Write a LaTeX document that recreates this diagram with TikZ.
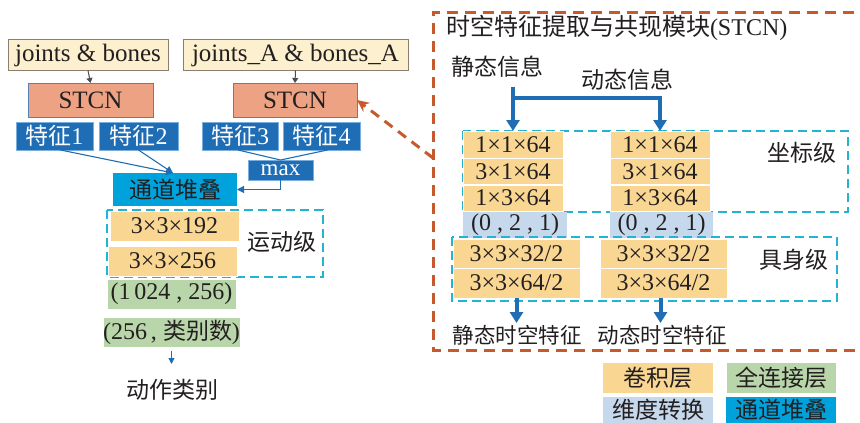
\documentclass[tikz,border=0pt]{standalone}
\usepackage{fontspec}
\setmainfont{Liberation Serif}
\newfontfamily\cjk{Noto Sans CJK SC}
\usetikzlibrary{arrows.meta,calc}
\newcommand\zh[1]{{\cjk\fontsize{23}{27}\selectfont #1}}
\newcommand\lat{\fontsize{24}{28}\selectfont}
\definecolor{cream}{HTML}{FCF0CE}
\definecolor{creamB}{HTML}{8A7E70}
\definecolor{salmon}{HTML}{EDA383}
\definecolor{salmonB}{HTML}{5A80B8}
\definecolor{fblue}{HTML}{1F6EB5}
\definecolor{fblueB}{HTML}{7AAEDD}
\definecolor{chan}{HTML}{00A2DC}
\definecolor{conv}{HTML}{F9D792}
\definecolor{fc}{HTML}{B9D6AA}
\definecolor{dimc}{HTML}{C6D8EC}
\definecolor{cyanD}{HTML}{22B4D2}
\definecolor{orD}{HTML}{C65A2C}
\definecolor{txt}{HTML}{231F20}
\definecolor{arrB}{HTML}{1F6DB3}
\tikzset{
  wh/.style 2 args={minimum width=#1, minimum height=#2},
  base/.style={inner sep=0pt, outer sep=0pt, font=\lat, text=txt},
  inbox/.style={base, fill=cream, draw=creamB, line width=1pt, font=\fontsize{25}{29}\selectfont},
  stcnbox/.style={base, fill=salmon, draw=salmonB, line width=0.8pt, font=\fontsize{25}{29}\selectfont},
  featbox/.style={base, fill=fblue, draw=fblueB, line width=0.8pt, text=white},
  chanbox/.style={base, fill=chan},
  convbox/.style={base, fill=conv, draw=white, line width=0.8pt},
  fcbox/.style={base, fill=fc, draw=white, line width=0.8pt},
  dimbox/.style={base, fill=dimc},
  lbl/.style={base},
  thin arrow/.style={draw=fblue, line width=1.1pt, -{Triangle[length=7pt,width=7pt]}},
  gray arrow/.style={draw=txt!80, line width=1pt, -{Triangle[length=5pt,width=6pt]}},
  thick arrow/.style={draw=arrB, line width=4pt, -{Triangle[length=11pt,width=13pt]}},
  cyandash/.style={draw=cyanD, line width=1.8pt, dash pattern=on 9pt off 5pt},
  ordash/.style={draw=orD, line width=3pt, dash pattern=on 11pt off 7pt},
}
\begin{document}
\begin{tikzpicture}[x=1pt,y=-1pt]
\useasboundingbox (0,0) rectangle (860,423);
\clip (0,0) rectangle (860,423);
\fill[white] (0,0) rectangle (860,423);

% ---------- left part ----------
\node[inbox, wh={160}{31}] (jb) at (88,55) {joints \& bones};
\node[inbox, wh={225}{31}] (jbA) at (295.5,55) {joints\_A \& bones\_A};
\node[stcnbox, wh={125}{34}] (stcn1) at (90.5,100) {STCN};
\node[stcnbox, wh={124}{34}] (stcn2) at (295,100) {STCN};
\draw[gray arrow] (jb.south) -- (stcn1.north);
\draw[gray arrow] (jbA.south) -- (stcn2.north);

\node[featbox, wh={77}{28}] (f1) at (54.5,136) {\zh{特征}1};
\node[featbox, wh={79}{28}] (f2) at (138.5,136) {\zh{特征}2};
\node[featbox, wh={76}{28}] (f3) at (240,136) {\zh{特征}3};
\node[featbox, wh={77}{28}] (f4) at (321.5,136) {\zh{特征}4};
\node[featbox, wh={65}{20}, font=\fontsize{23}{24}\selectfont] (mx) at (280.5,170) {max};

\node[chanbox, wh={124}{33}] (cs) at (175,189.5) {\zh{通道堆叠}};
\coordinate (csin) at (173,173);
\draw[thin arrow] ($(f1.south)+(6,0)$) -- (csin);
\draw[thin arrow] (f2.south) -- (csin);
\draw[draw=fblue, line width=1.1pt] ($(f3.south)+(-2,0)$) -- (mx.north);
\draw[draw=fblue, line width=1.1pt] ($(f4.south)+(6,0)$) -- (mx.north);
\draw[thin arrow] (mx.south) |- (cs.east);

\draw[cyandash] (107,210) rectangle (323,277);
\node[convbox, wh={129}{30}] (c1) at (174.5,226) {3×3×192};
\node[convbox, wh={129}{30}] (c2) at (172.5,261) {3×3×256};
\node[lbl] (mlv) at (282,242) {\zh{运动级}};
\node[fcbox, wh={129}{30}] (fc1) at (171.5,294) {(1\,024 , 256)};
\node[fcbox, wh={129}{30}] (fc2) at (171.5,332) {(256\,, \zh{类别数})};
\node[lbl] (out) at (172,390) {\zh{动作类别}};
\draw[draw=fblue, line width=1pt, -{Triangle[length=6pt,width=6pt]}, shorten <=4pt] (fc2.south) -- ($(fc2.south)+(0,17)$) coordinate (outarr);

% ---------- right part ----------
\draw[ordash] (872,12) -- (433,12) -- (433,350) -- (872,350);
\node[lbl, anchor=west] (title) at (446,28) {{\cjk\fontsize{24}{28}\selectfont 时空特征提取与共现模块}(STCN)};
\node[lbl] (sinfo) at (497,67) {\zh{静态信息}};
\node[lbl] (dinfo) at (627,80) {\zh{动态信息}};

\draw[cyandash] (463,131) rectangle (848,212);
\node[convbox, wh={100}{27}] (s1) at (513,144.5) {1×1×64};
\node[convbox, wh={100}{26}] (s2) at (513,171.5) {3×1×64};
\node[convbox, wh={100}{26}] (s3) at (513,198) {1×3×64};
\node[convbox, wh={100}{27}] (d1) at (660,144.5) {1×1×64};
\node[convbox, wh={100}{26}] (d2) at (660,171.5) {3×1×64};
\node[convbox, wh={100}{26}] (d3) at (660,198) {1×3×64};
\node[lbl] (zlv) at (802,153) {\zh{坐标级}};
\node[dimbox, wh={104}{26}] (p1) at (515,225) {(0 , 2 , 1)};
\node[dimbox, wh={103}{26}] (p2) at (661.5,225) {(0 , 2 , 1)};

\coordinate (astart) at (513,87);
\coordinate (abr) at (513,98);
\draw[thick arrow] (astart) -- (s1.north);
\draw[thick arrow] (abr) -| (d1.north);

\draw[cyandash] (452,237) rectangle (837,301);
\node[convbox, wh={127}{29}] (b1) at (516.5,253.5) {3×3×32/2};
\node[convbox, wh={127}{30}] (b2) at (516.5,283) {3×3×64/2};
\node[convbox, wh={127}{29}] (b3) at (663.5,253.5) {3×3×32/2};
\node[convbox, wh={127}{30}] (b4) at (663.5,283) {3×3×64/2};
\node[lbl] (jlv) at (794,260) {\zh{具身级}};

\node[lbl, minimum height=24pt] (so) at (517,335) {{\cjk\fontsize{21.5}{26}\selectfont 静态时空特征}};
\node[lbl, minimum height=24pt] (dyo) at (662,335) {{\cjk\fontsize{21.5}{26}\selectfont 动态时空特征}};
\draw[thick arrow] ($(b2.south)+(0,0)$) -- (so.north -| b2.south);
\draw[thick arrow] ($(b4.south)+(-3,0)$) -- ($(dyo.north -| b4.south)+(-3,0)$);

% dashed link to STCN
\coordinate (lk) at (433,158);
\draw[ordash, dash pattern=on 10pt off 7pt, -{Stealth[length=12pt,width=11pt]}] (lk) -- (stcn2.east);

% legend
\node[convbox, draw=none, wh={110}{30}] (lg1) at (658,378) {\zh{卷积层}};
\node[fcbox, draw=none, wh={109}{30}] (lg2) at (781,378) {\zh{全连接层}};
\node[dimbox, wh={110}{26}] (lg3) at (658,410) {\zh{维度转换}};
\node[chanbox, wh={110}{26}] (lg4) at (781,410) {\zh{通道堆叠}};
\end{tikzpicture}
\end{document}
